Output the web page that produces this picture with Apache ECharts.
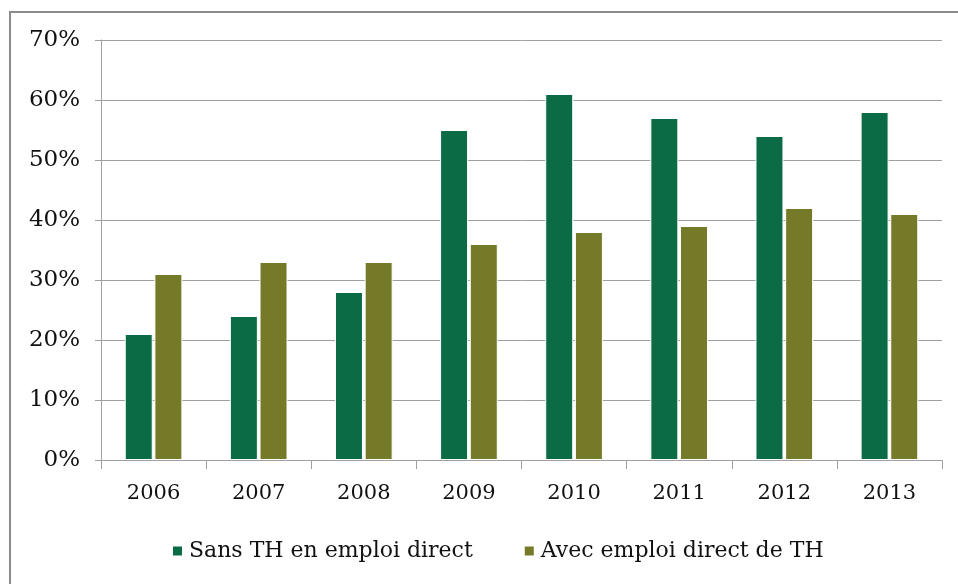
<!DOCTYPE html>
<html lang="fr">
<head>
    <meta charset="UTF-8">
    <title>Sans TH / Avec emploi direct de TH</title>
    <style>
        html, body {
            margin: 0;
            padding: 0;
            background: #fff;
        }
        #chart {
            width: 958px;
            height: 584px;
        }
    </style>
    <script src="https://cdn.jsdelivr.net/npm/echarts@6/dist/echarts.min.js"></script>
</head>
<body>
    <div id="chart"></div>
    <script>
        // données (en %)
        const annees = ['2006', '2007', '2008', '2009', '2010', '2011', '2012', '2013'];
        const sansTH = [21, 24, 28, 55, 61, 57, 54, 58];
        const avecTH = [31, 33, 33, 36, 38, 39, 42, 41];
        const nomsSeries = ['Sans TH en emploi direct', 'Avec emploi direct de TH'];

        const police = 'DejaVu Serif';
        const gris = '#a0a0a0';

        const chart = echarts.init(document.getElementById('chart'));

        const option = {
            animation: false,
            backgroundColor: '#fff',
            color: ['#0b6b45', '#747a28'],
            graphic: [{
                type: 'rect',
                z: -10,
                shape: { x: 10, y: 12, width: 1200, height: 1000 },
                style: { fill: 'none', stroke: '#8c8c8c', lineWidth: 2 }
            }],
            grid: {
                left: 101,
                right: 16,
                top: 40,
                bottom: 124
            },
            legend: {
                data: nomsSeries,
                left: 166,
                top: 535,
                icon: 'rect',
                itemWidth: 11,
                itemHeight: 11,
                itemGap: 50,
                textStyle: {
                    fontFamily: police,
                    fontSize: 22,
                    color: '#111',
                    padding: [0, 0, 0, 1]
                }
            },
            xAxis: {
                type: 'category',
                data: annees,
                z: 5,
                axisLine: { lineStyle: { color: gris, width: 1 } },
                axisTick: { show: true, length: 9, lineStyle: { color: gris } },
                axisLabel: {
                    fontFamily: police,
                    fontSize: 21,
                    color: '#111',
                    margin: 23
                }
            },
            yAxis: {
                type: 'value',
                min: 0,
                max: 70,
                interval: 10,
                axisLine: { show: true, lineStyle: { color: gris, width: 1 } },
                axisTick: { show: true, length: 6, lineStyle: { color: gris } },
                splitLine: { lineStyle: { color: gris, width: 1 } },
                axisLabel: {
                    fontFamily: police,
                    fontSize: 23,
                    color: '#111',
                    margin: 21,
                    formatter: '{value}%'
                }
            },
            series: [
                {
                    name: nomsSeries[0],
                    type: 'bar',
                    data: sansTH,
                    barWidth: 28,
                    barGap: '6%',
                    itemStyle: { borderColor: '#fff', borderWidth: 1 }
                },
                {
                    name: nomsSeries[1],
                    type: 'bar',
                    data: avecTH,
                    barWidth: 28,
                    itemStyle: { borderColor: '#fff', borderWidth: 1 }
                }
            ]
        };

        chart.setOption(option);
    </script>
</body>
</html>
